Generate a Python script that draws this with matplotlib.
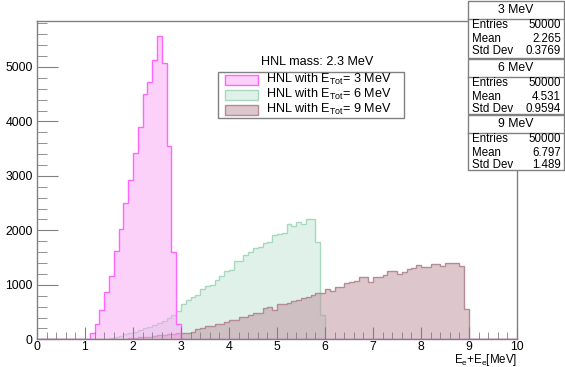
import numpy as np
import matplotlib
matplotlib.use("Agg")
import matplotlib.pyplot as plt
from matplotlib.patches import Rectangle
from matplotlib.lines import Line2D
from matplotlib.ticker import MultipleLocator

plt.rcParams['font.family'] = ['Liberation Sans', 'DejaVu Sans']
plt.rcParams['mathtext.default'] = 'regular'

# histogram contents, 0.1 MeV bins on [0, 10]
edges = np.linspace(0, 10, 101)

pink_start = 1.1
pink_counts = [110, 281, 538, 862, 1168, 1621, 2024, 2495, 2924, 3413,
               3902, 4502, 4728, 5125, 5572, 5076, 3554, 1609, 281]

green_start = 1.5
green_counts = [20, 40, 60, 90, 110, 140, 170, 200, 230, 260, 300, 340, 390, 440, 520,
                650, 720, 770, 820, 920, 970, 1000, 1090, 1160, 1250,
                1280, 1440, 1440, 1550, 1610, 1670, 1700, 1760, 1780, 1910,
                1940, 1950, 2110, 2080, 2150, 2110, 2200, 2200, 1790, 450]

brown_start = 1.8
brown_counts = [10, 20, 25, 35, 45, 50, 60, 70, 80, 90, 100, 110,
                122, 122, 140, 183, 200, 245, 245, 280, 290, 324,
                355, 355, 404, 404, 440, 477, 490, 569, 587, 538,
                648, 650, 660, 700, 720, 752, 783, 813, 844, 856,
                917, 893, 954, 966, 1028, 1046, 1076, 1138, 1138, 1046,
                1150, 1150, 1180, 1260, 1260, 1199, 1242, 1284, 1303, 1364,
                1333, 1321, 1376, 1376, 1352, 1407, 1407, 1394, 1352, 550]

labels = ["HNL with E$_{Tot}$= 3 MeV", "HNL with E$_{Tot}$= 6 MeV", "HNL with E$_{Tot}$= 9 MeV"]
box_titles = ["3 MeV", "6 MeV", "9 MeV"]
entries = ["50000", "50000", "50000"]
means = ["2.265", "4.531", "6.797"]
stds = ["0.3769", "0.9594", "1.489"]


def full(start, counts):
    vals = np.zeros(len(edges) - 1)
    i0 = int(round(start * 10))
    vals[i0:i0 + len(counts)] = counts
    return vals


W, H = 565, 367
fig = plt.figure(figsize=(W / 100, H / 100), dpi=100)
ax = fig.add_axes([37 / W, 1 - 339.3 / H, 480 / W, (339.3 - 20.7) / H])


def fx(px):  # pixel -> figure fraction
    return px / W


def fy(py):
    return 1 - py / H


styles = [  # fill colour, line colour
    ((251 / 255, 165 / 255, 245 / 255), '#ff66ff'),
    ((195 / 255, 229 / 255, 215 / 255), '#a8d8c0'),
    ((189 / 255, 145 / 255, 155 / 255), '#b48c96'),
]
hists = {0: full(pink_start, pink_counts), 1: full(green_start, green_counts), 2: full(brown_start, brown_counts)}
for k in [1, 2, 0]:
    fc, lc = styles[k]
    ax.stairs(hists[k], edges, fill=True, color=fc, alpha=0.5, lw=0)
    ax.stairs(hists[k], edges, color=lc, lw=1.0)

ax.set_xlim(0, 10)
ax.set_ylim(0, 5850)
ax.xaxis.set_major_locator(MultipleLocator(1))
ax.xaxis.set_minor_locator(MultipleLocator(0.2))
ax.yaxis.set_major_locator(MultipleLocator(1000))
ax.yaxis.set_minor_locator(MultipleLocator(200))
ax.tick_params(which='both', direction='in', top=False, right=False, labelsize=8.8, colors='#808080',
               labelcolor='black')
ax.tick_params(axis='x', which='major', length=9, pad=1.5)
ax.tick_params(axis='x', which='minor', length=5)
ax.tick_params(axis='y', which='major', length=15, pad=3)
ax.tick_params(axis='y', which='minor', length=7)
for s in ax.spines.values():
    s.set_color('#808080')
    s.set_linewidth(1.0)

fig.text(fx(517), fy(363.5), "E$_{e}$+E$_{e}$[MeV]", ha='right', va='baseline', fontsize=8.3)

# legend, drawn by hand to match the ROOT box
fig.add_artist(Rectangle((fx(218), fy(118)), (404 - 218) / W, (118 - 72) / H, transform=fig.transFigure,
                         facecolor='white', edgecolor='#808080', lw=1.0, zorder=5))
for k, yc in enumerate([79.5, 94.5, 109.5]):
    fc, lc = styles[k]
    fig.add_artist(Rectangle((fx(225), fy(yc + 5)), 33 / W, 10 / H, transform=fig.transFigure,
                             facecolor=fc, alpha=0.5, edgecolor='none', zorder=6))
    fig.add_artist(Rectangle((fx(225), fy(yc + 5)), 33 / W, 10 / H, transform=fig.transFigure,
                             facecolor='none', edgecolor=lc, lw=1.0, zorder=7))
    fig.text(fx(266), fy(yc), labels[k], ha='left', va='center', fontsize=9.1, zorder=7)
fig.text(fx(317), fy(62), "HNL mass: 2.3 MeV", ha='center', va='center', fontsize=9.1)

# stats boxes
boxes = [(1, 58), (59, 114), (115, 170)]
bx0, bx1 = 468, 564
for (top, bot), t, e, m, s in zip(boxes, box_titles, entries, means, stds):
    fig.add_artist(Rectangle((fx(bx0), fy(bot)), (bx1 - bx0) / W, (bot - top) / H,
                             transform=fig.transFigure, facecolor='white', edgecolor='#808080',
                             lw=1.0, zorder=10))
    fig.add_artist(Line2D([fx(bx0), fx(bx1)], [fy(top + 17.5)] * 2, transform=fig.transFigure,
                          color='#808080', lw=1.0, zorder=11))
    fig.text(fx((bx0 + bx1) / 2), fy(top + 9), t, ha='center', va='center', fontsize=8.8, zorder=12)
    for j, (name, val) in enumerate([("Entries", e), ("Mean", m), ("Std Dev", s)]):
        yc = fy(top + 24.5 + 13 * j)
        fig.text(fx(bx0 + 4), yc, name, ha='left', va='center', fontsize=8.3, zorder=12)
        fig.text(fx(bx1 - 3), yc, val, ha='right', va='center', fontsize=8.3, zorder=12)

fig.savefig("out.png", dpi=100)
